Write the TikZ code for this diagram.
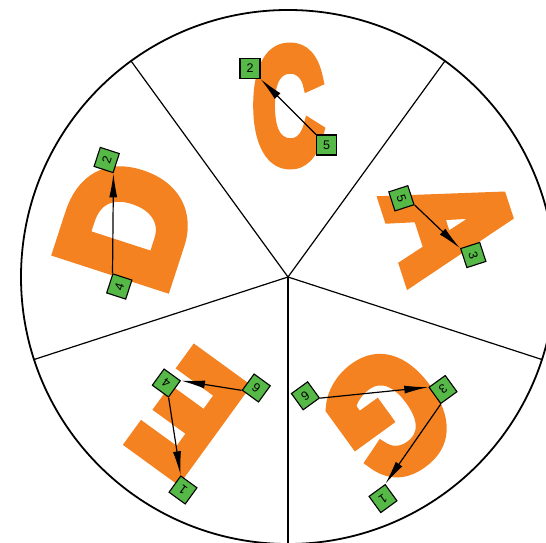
\documentclass[tikz,border=0pt]{standalone}
\usepackage{fontspec}
\setmainfont{Liberation Sans}
\newfontfamily\heavyfont{Liberation Sans}[BoldFeatures={FakeBold=8}]
\usetikzlibrary{arrows.meta}
\definecolor{letterorange}{HTML}{F58220}
\definecolor{taggreen}{HTML}{56B847}

\begin{document}
\begin{tikzpicture}[
  x=1pt, y=1pt,
  letter/.style={text=letterorange, inner sep=0pt,
                 font=\heavyfont\bfseries\fontsize{161}{161}\selectfont},
  tag/.style={draw, fill=taggreen, minimum size=20pt, inner sep=0pt,
              line width=1.1pt, font=\fontsize{12.5}{12.5}\selectfont},
  arrow/.style={-{Latex[length=24pt,width=8pt]}, line width=1.2pt}
]
\path[fill=white, use as bounding box] (-288,-266) rectangle (258,277);
\coordinate (o) at (0,0);
\draw[line width=1.8pt] (o) circle[radius=267pt];
\foreach \a in {54,126,198,270,342}
  \draw[line width=1.2pt] (o) -- (\a:267pt);

\node[letter, xscale=0.6] (C) at (90:171) {C};
\node[letter, rotate=-72, xscale=0.78] (A) at (18:171) {A};
\node[letter, rotate=72, xscale=0.98] (D) at (162:170) {D};
\node[letter, rotate=144, xscale=0.69] (E) at (234:171) {E};
\node[letter, rotate=-144, xscale=0.82] (G) at (306:171) {G};

\node[tag] (c2) at (-38,208.5) {2};
\node[tag] (c5) at (38.5,132) {5};
\node[tag, rotate=-72] (a5) at (113.4,78.7) {5};
\node[tag, rotate=-72] (a3) at (185.3,22) {3};
\node[tag, rotate=72] (d2) at (-181.3,117) {2};
\node[tag, rotate=72] (d4) at (-168.7,-9.5) {4};
\node[tag, rotate=144] (e4) at (-121.7,-106) {4};
\node[tag, rotate=144] (e6) at (-31.7,-111) {6};
\node[tag, rotate=144] (e1) at (-105,-213) {1};
\node[tag, rotate=-144] (g6) at (17.4,-118.8) {6};
\node[tag, rotate=-144] (g3) at (155,-112.5) {3};
\node[tag, rotate=-144] (g1) at (95,-221.6) {1};

\draw[arrow] (c5.north west) -- (c2.south east);
\draw[arrow] (a5.north east) -- (a3.south west);
\draw[arrow] (d4.north east) -- (d2.south west);
\draw[arrow] (e6.north east) -- (e4.south west);
\draw[arrow] (e4.north west) -- (e1.south east);
\draw[arrow] (g6.north west) -- (g3.south east);
\draw[arrow] (g3.north east) -- (g1.south west);
\end{tikzpicture}
\end{document}
